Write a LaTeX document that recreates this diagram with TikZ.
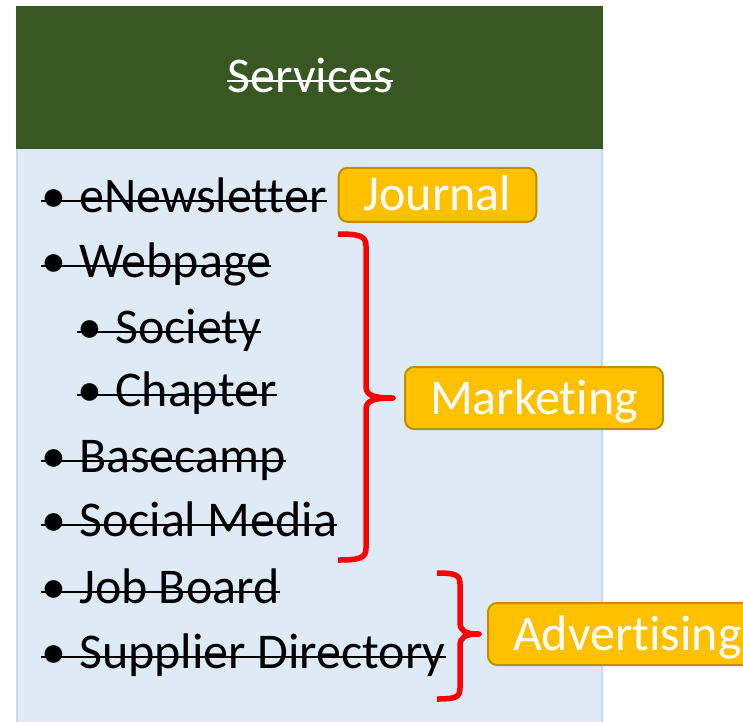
\documentclass[tikz,border=0pt]{standalone}
\usepackage{fontspec}
\setmainfont{Carlito}[Ligatures=NoCommon]
\usepackage{tikz}
\usetikzlibrary{positioning}

\definecolor{headgreen}{HTML}{385723}
\definecolor{panelblue}{HTML}{DEEAF6}
\definecolor{panelline}{HTML}{C9D9EE}
\definecolor{tagfill}{HTML}{FFC000}
\definecolor{tagline}{HTML}{BF9000}

\tikzset{
  item/.style={font=\fontsize{50pt}{60pt}\selectfont, inner sep=0pt, anchor=base west,
    execute at begin node={\textbullet\hspace{13pt}}},
  strike/.style={line width=2.5pt},
  tag/.style={draw=tagline, fill=tagfill, line width=2pt, rounded corners=9pt, text=white,
    font=\fontsize{50pt}{60pt}\selectfont, inner xsep=25pt, inner ysep=0pt,
    text height=32pt, text depth=0pt, minimum height=62pt},
  bracket/.style={draw=red, line width=5.5pt, line join=round}
}

\begin{document}
\begin{tikzpicture}[x=1pt,y=-1pt]
\useasboundingbox (0,0) rectangle (743,721);

\filldraw[fill=panelblue, draw=panelline, line width=2pt] (17,148) rectangle (602,740);
\fill[headgreen] (16,6) rectangle (603,149);
\node[font=\fontsize{50pt}{60pt}\selectfont, text=white, inner sep=0pt, anchor=base] (title) at (310,92) {Services};
\draw[strike, white] ([yshift=11pt]title.base west) -- ([yshift=11pt]title.base east);

\node[item] (news) at (41,212) {eNewsletter}; \node[item] (web) at (41,277) {Webpage};
\node[item] (society) at (77,343) {Society}; \node[item] (chapter) at (77,406) {Chapter};
\node[item] (basecamp) at (41,472) {Basecamp}; \node[item] (social) at (41,536) {Social Media};
\node[item] (jobs) at (41,603) {Job Board}; \node[item] (supplier) at (41,668) {Supplier Directory};

\foreach \n in {news,web,society,chapter,basecamp,social,jobs,supplier}
  \draw[strike] ([yshift=11pt]\n.base west) -- ([yshift=11pt]\n.base east);

\coordinate (mtip) at (393,398); \coordinate (atip) at (479,634);

\node[tag, minimum height=54pt, right=11pt of news] (journal) {Journal};
\node[tag, right=11pt of mtip] (marketing) {Marketing};
\node[tag, right=8pt of atip] (advertising) {Advertising};

\draw[bracket] (338,234) .. controls (360,234) and (366,236) .. (366,246) -- (366,386)
  .. controls (366,395) and (372,398) .. (mtip) .. controls (372,398) and (366,401) .. (366,410)
  -- (366,548) .. controls (366,558) and (360,560) .. (338,560);
\draw[bracket] (437,573) .. controls (456,573) and (460,575) .. (460,584) -- (460,622)
  .. controls (460,631) and (465,634) .. (atip) .. controls (465,634) and (460,637) .. (460,646)
  -- (460,688) .. controls (460,697) and (456,699) .. (437,699);
\end{tikzpicture}
\end{document}
